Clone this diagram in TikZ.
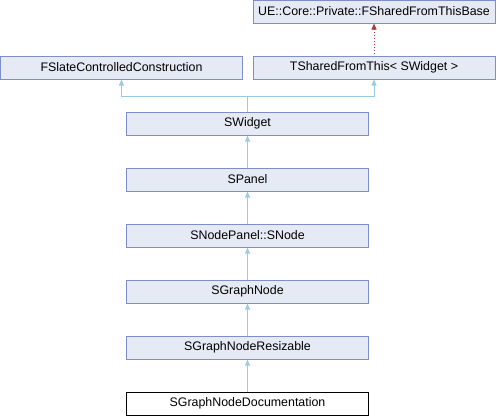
\documentclass[tikz,border=0pt]{standalone}
\usepackage{fontspec}
\setmainfont{Liberation Sans}
\usetikzlibrary{arrows.meta}
\definecolor{clsfill}{HTML}{E6EAF4}
\definecolor{clsline}{HTML}{7C8FCA}
\definecolor{inhline}{HTML}{9ACBE3}
\definecolor{tmpline}{HTML}{A33D32}
\begin{document}
\begin{tikzpicture}[x=1pt,y=-1pt,line width=1pt,
  cls/.style={draw=clsline,fill=clsfill,minimum width=242pt,minimum height=23pt,
    inner sep=0pt,font=\fontsize{12.4}{14}\selectfont},
  inh/.style={draw=inhline,arrows={Triangle[width=5pt,length=6pt]-}},
  tmp/.style={draw=tmpline,dotted,arrows={Triangle[width=5pt,length=6pt]-}}]
\useasboundingbox (0,0) rectangle (496,416);
% ---- top row: base classes ----
\node[cls] (base)   at (374,11.5) {UE::Core::Private::FSharedFromThisBase};
\node[cls] (tsft)   at (374,67.5) {TSharedFromThis< SWidget >};
\node[cls] (fslate) at (121.5,67.5) {FSlateControlledConstruction};
% ---- the chain down to SGraphNodeDocumentation ----
\foreach \r/\n/\s in {
  2/swidget/SWidget, 3/spanel/SPanel, 4/snode/SNodePanel::SNode,
  5/sgraph/SGraphNode, 6/sresize/SGraphNodeResizable%
}{
  \node[cls] (\n) at (247.5,56*\r+11.5) {\s};
}
\node[cls,draw=black,fill=white] (sdoc) at (247.5,403.5) {SGraphNodeDocumentation};
% ---- inheritance edges ----
\coordinate (fork) at (247.5,96.5);
\draw[tmp] (base.south) -- (tsft.north);
\draw[inh] (fslate.south) |- (fork) -- (swidget.north);
\draw[inh] (tsft.south) |- (fork);
\draw[inh] (swidget.south) -- (spanel.north);
\draw[inh] (spanel.south) -- (snode.north);
\draw[inh] (snode.south) -- (sgraph.north);
\draw[inh] (sgraph.south) -- (sresize.north);
\draw[inh] (sresize.south) -- (sdoc.north);
\end{tikzpicture}
\end{document}
